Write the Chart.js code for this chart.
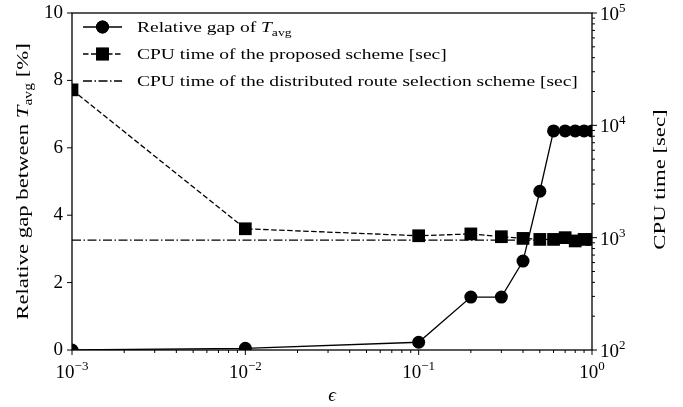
<!DOCTYPE html>
<html><head><meta charset="utf-8">
<script src="https://cdn.jsdelivr.net/npm/chart.js@4"></script>
<style>html,body{margin:0;padding:0;background:#fff}#wrap{width:683px;height:407px}</style>
</head><body><div id="wrap"><canvas id="c" width="683" height="407"></canvas></div>
<script>
// ---- data ----
const epsilon = [0.001, 0.01, 0.1, 0.2, 0.3, 0.4, 0.5, 0.6, 0.7, 0.8, 0.9, 1.0];
const relGap = [0, 0.05, 0.23, 1.57, 1.57, 2.64, 4.71, 6.5, 6.5, 6.5, 6.5, 6.5];
const cpuProposed = [20700, 1200, 1040, 1080, 1020, 985, 965, 965, 1000, 935, 965, 965];
const distEps = [0.001, 1.0];
const cpuDistributed = [950, 950];
const leftTicks = [0, 2, 4, 6, 8, 10];
const xDecades = [-3, -2, -1, 0];
const rightDecades = [2, 3, 4, 5];
const legendLabels = ["Relative gap of ", "CPU time of the proposed scheme [sec]", "CPU time of the distributed route selection scheme [sec]"];

const SERIF = '"Liberation Serif", "DejaVu Serif", serif';
const STRETCH = 1.3;

function drawPow(ctx, x, y, exp, align) {
  const base = '10';
  const e = exp < 0 ? '\u2212' + Math.abs(exp) : String(exp);
  ctx.font = '19px ' + SERIF;
  const wb = ctx.measureText(base).width;
  ctx.font = '13px ' + SERIF;
  const we = ctx.measureText(e).width;
  const w = wb + we;
  let x0 = align === 'center' ? x - w / 2 : (align === 'right' ? x - w : x);
  ctx.textAlign = 'left';
  ctx.textBaseline = 'alphabetic';
  ctx.font = '19px ' + SERIF;
  ctx.fillText(base, x0, y);
  ctx.font = '13px ' + SERIF;
  ctx.fillText(e, x0 + wb, y - 8);
}

// draw a run of [text, font, dy] parts horizontally stretched; returns nothing
function drawRuns(ctx, parts, x, y, align, baseline) {
  let tw = 0;
  parts.forEach(p => { ctx.font = p[1]; tw += ctx.measureText(p[0]).width; });
  ctx.save();
  ctx.translate(x, y);
  ctx.scale(STRETCH, 1);
  let xx = align === 'center' ? -tw / 2 : 0;
  ctx.textAlign = 'left'; ctx.textBaseline = baseline;
  parts.forEach(p => { ctx.font = p[1]; ctx.fillText(p[0], xx, p[2]); xx += ctx.measureText(p[0]).width; });
  ctx.restore();
}

const deco = {
  id: 'deco',
  afterDatasetsDraw(chart) {
    const ctx = chart.ctx, a = chart.chartArea;
    const sx = chart.scales.x, sl = chart.scales.yL, sr = chart.scales.yR;
    ctx.save();
    ctx.fillStyle = '#000'; ctx.strokeStyle = '#000';
    // frame
    ctx.lineWidth = 1.3;
    ctx.strokeRect(a.left, a.top, a.right - a.left, a.bottom - a.top);
    ctx.lineWidth = 1;
    // x ticks
    xDecades.forEach((d, i) => {
      const p = sx.getPixelForValue(Math.pow(10, d));
      ctx.beginPath(); ctx.moveTo(p, a.bottom); ctx.lineTo(p, a.bottom + 5); ctx.stroke();
      drawPow(ctx, p, a.bottom + 28, d, 'center');
      if (i < xDecades.length - 1) {
        for (let m = 2; m <= 9; m++) {
          const q = sx.getPixelForValue(m * Math.pow(10, d));
          ctx.beginPath(); ctx.moveTo(q, a.bottom); ctx.lineTo(q, a.bottom + 3); ctx.stroke();
        }
      }
    });
    // left ticks
    leftTicks.forEach(v => {
      const p = sl.getPixelForValue(v);
      ctx.beginPath(); ctx.moveTo(a.left, p); ctx.lineTo(a.left - 5, p); ctx.stroke();
      ctx.font = '19px ' + SERIF; ctx.textAlign = 'right'; ctx.textBaseline = 'middle';
      ctx.fillText(String(v), a.left - 9, p);
    });
    // right ticks
    rightDecades.forEach((d, i) => {
      const p = sr.getPixelForValue(Math.pow(10, d));
      ctx.beginPath(); ctx.moveTo(a.right, p); ctx.lineTo(a.right + 5, p); ctx.stroke();
      drawPow(ctx, a.right + 8, p + 7, d, 'left');
      if (i < rightDecades.length - 1) {
        for (let m = 2; m <= 9; m++) {
          const q = sr.getPixelForValue(m * Math.pow(10, d));
          ctx.beginPath(); ctx.moveTo(a.right, q); ctx.lineTo(a.right + 3, q); ctx.stroke();
        }
      }
    });
    // x title
    ctx.font = 'italic 19px ' + SERIF; ctx.textAlign = 'center'; ctx.textBaseline = 'alphabetic';
    ctx.fillText('\u03f5', (a.left + a.right) / 2, 401);
    // left title
    const cy = (a.top + a.bottom) / 2;
    ctx.save();
    ctx.translate(28, cy); ctx.rotate(-Math.PI / 2);
    drawRuns(ctx, [['Relative gap between ', '17.5px ' + SERIF, 0], ['T', 'italic 17.5px ' + SERIF, 0], ['avg', '12px ' + SERIF, 4], [' [%]', '17.5px ' + SERIF, 0]], 0, 0, 'center', 'alphabetic');
    ctx.restore();
    // right title
    ctx.save();
    ctx.translate(665, cy - 2); ctx.rotate(-Math.PI / 2);
    drawRuns(ctx, [['CPU time [sec]', '17.5px ' + SERIF, 0]], 0, 0, 'center', 'alphabetic');
    ctx.restore();
    // legend
    const ds = chart.data.datasets;
    const rows = [27, 54, 81];
    ds.forEach((d, i) => {
      const y = rows[i];
      ctx.save();
      ctx.lineWidth = d.borderWidth; ctx.strokeStyle = '#000';
      ctx.setLineDash(d.borderDash || []);
      ctx.beginPath(); ctx.moveTo(83, y); ctx.lineTo(122, y); ctx.stroke();
      ctx.setLineDash([]);
      if (d.pointRadius > 0) {
        Chart.helpers.drawPoint(ctx, { pointStyle: d.pointStyle, rotation: 0, radius: d.pointRadius, borderWidth: 0 }, 102.5, y);
        ctx.fillStyle = '#000'; ctx.fill();
      }
      ctx.restore();
      ctx.fillStyle = '#000';
      const parts = [[legendLabels[i], '15px ' + SERIF, 0]];
      if (i === 0) { parts.push(['T', 'italic 15px ' + SERIF, 0]); parts.push(['avg', '10.5px ' + SERIF, 4]); }
      drawRuns(ctx, parts, 137, y + 5, 'left', 'alphabetic');
    });
    ctx.restore();
  }
};

new Chart(document.getElementById('c'), {
  type: 'line',
  data: {
    datasets: [
      { label: 'gap', data: epsilon.map((e, i) => ({ x: e, y: relGap[i] })), yAxisID: 'yL',
        borderColor: '#000', backgroundColor: '#000', borderWidth: 1.3, pointStyle: 'circle', pointRadius: 6.5,
        pointBorderWidth: 0, clip: 0, tension: 0 },
      { label: 'cpu', data: epsilon.map((e, i) => ({ x: e, y: cpuProposed[i] })), yAxisID: 'yR',
        borderColor: '#000', backgroundColor: '#000', borderWidth: 1.3, borderDash: [5.5, 2.5], pointStyle: 'rect', pointRadius: 9,
        pointBorderWidth: 0, clip: 0, tension: 0 },
      { label: 'dist', data: distEps.map((e, i) => ({ x: e, y: cpuDistributed[i] })), yAxisID: 'yR',
        borderColor: '#000', borderWidth: 1.3, borderDash: [9, 2.5, 1.5, 2.5], pointRadius: 0, clip: 0, tension: 0 }
    ]
  },
  options: {
    responsive: false, animation: false, events: [],
    layout: { padding: { left: 72, right: 91, top: 13, bottom: 57 } },
    plugins: { legend: { display: false }, tooltip: { enabled: false } },
    scales: {
      x: { type: 'logarithmic', min: 0.001, max: 1, display: false },
      yL: { type: 'linear', position: 'left', min: 0, max: 10, display: false },
      yR: { type: 'logarithmic', position: 'right', min: 100, max: 100000, display: false }
    }
  },
  plugins: [deco]
});
</script></body></html>
